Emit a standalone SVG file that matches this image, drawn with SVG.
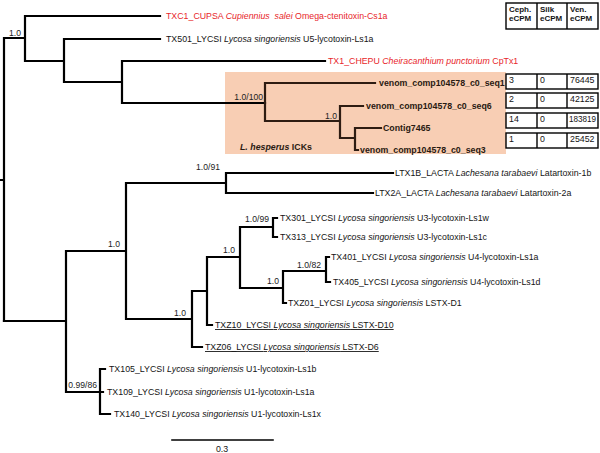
<svg xmlns="http://www.w3.org/2000/svg" width="600" height="453" viewBox="0 0 600 453">
<style>
text{font-family:"Liberation Sans",Arial,sans-serif;font-size:8.8px;fill:#141414}
.red{fill:#e8262a}
.b{font-weight:bold;fill:#2a1a12}
.lab{font-size:8.6px;text-anchor:end;fill:#222}
.i{font-style:italic}
.u{text-decoration:underline}
.tree{fill:none;stroke:#000;stroke-width:2.2;stroke-linecap:square}
.cell{fill:#fff;stroke:#000;stroke-width:1.4}
.h{font-size:8px;font-weight:bold}
.v{font-size:8.8px}
</style>
<rect width="600" height="453" fill="#fff"/>
<rect id="ick-box" x="225" y="72" width="281" height="82" fill="#f8ceb4"/>
<g id="connectors" class="tree">
<path d="M0,180H4M4,38V321M4,38H25M25,16V61M25,16H160M25,61H64M64,39V82M64,39H160M64,82H122M122,61V103M122,61H325M122,103H265"/>
<path stroke="#2e1c12" d="M265,83V121M265,83H375M265,121H340M340,106V138M340,106H363M340,138H355M355,128V150M355,128H381M355,150H358"/>
<path d="M4,321H66M66,251V392M66,251H126M126,183V319M126,183H226M226,173V193M226,173H393M226,193H373M126,319H192M192,291V347M192,291H207M207,257V325M207,257H240M240,227V288M240,227H273M273,218V237M273,218H277M273,237H277M240,288H283M283,271V303M283,271H326M326,257V282M326,257H329M326,282H330M283,303H286M207,325H212M192,347H202M66,392H100M100,369V414M100,369H105M100,392H103M100,414H110"/>
<path d="M172,440H273" stroke-width="1.6"/>
</g>
<g id="support-labels">
<text class="lab" x="21" y="36">1.0</text>
<text class="lab" x="263" y="100">1.0/100</text>
<text class="lab" x="337" y="119">1.0</text>
<text class="lab" x="220" y="170">1.0/91</text>
<text class="lab" x="120" y="247">1.0</text>
<text class="lab" x="269" y="222">1.0/99</text>
<text class="lab" x="235" y="253">1.0</text>
<text class="lab" x="321" y="268">1.0/82</text>
<text class="lab" x="279" y="284">1.0</text>
<text class="lab" x="186" y="316">1.0</text>
<text class="lab" x="97" y="388">0.99/86</text>
</g>
<g id="leaf-TXC1"><text class="red" x="166" y="19" xml:space="preserve">TXC1_CUPSA <tspan class="i">Cupiennius  salei</tspan> Omega-ctenitoxin-Cs1a</text></g>
<g id="leaf-TX501"><text x="166" y="42">TX501_LYCSI <tspan class="i">Lycosa singoriensis</tspan> U5-lycotoxin-Ls1a</text></g>
<g id="leaf-TX1"><text class="red" x="328" y="64">TX1_CHEPU <tspan class="i">Cheiracanthium punctorium</tspan> CpTx1</text></g>
<g id="leaf-seq1"><text class="b" x="379" y="86">venom_comp104578_c0_seq1</text></g>
<g id="leaf-seq6"><text class="b" x="366" y="109">venom_comp104578_c0_seq6</text></g>
<g id="leaf-contig"><text class="b" x="383" y="131">Contig7465</text></g>
<g id="leaf-seq3"><text class="b" x="360" y="153">venom_comp104578_c0_seq3</text></g>
<g id="ick-label"><text class="b" x="240" y="150"><tspan class="i">L. hesperus</tspan> ICKs</text></g>
<g id="leaf-LTX1B"><text x="395" y="176">LTX1B_LACTA <tspan class="i">Lachesana tarabaevi</tspan> Latartoxin-1b</text></g>
<g id="leaf-LTX2A"><text x="375" y="196">LTX2A_LACTA <tspan class="i">Lachesana tarabaevi</tspan> Latartoxin-2a</text></g>
<g id="leaf-TX301"><text x="280" y="221">TX301_LYCSI <tspan class="i">Lycosa singoriensis</tspan> U3-lycotoxin-Ls1w</text></g>
<g id="leaf-TX313"><text x="280" y="240">TX313_LYCSI <tspan class="i">Lycosa singoriensis</tspan> U3-lycotoxin-Ls1c</text></g>
<g id="leaf-TX401"><text x="331" y="260">TX401_LYCSI <tspan class="i">Lycosa singoriensis</tspan> U4-lycotoxin-Ls1a</text></g>
<g id="leaf-TX405"><text x="333" y="285">TX405_LYCSI <tspan class="i">Lycosa singoriensis</tspan> U4-lycotoxin-Ls1d</text></g>
<g id="leaf-TXZ01"><text x="288" y="306">TXZ01_LYCSI <tspan class="i">Lycosa singoriensis</tspan> LSTX-D1</text></g>
<g id="leaf-TXZ10"><text class="u" x="215" y="328">TXZ10_LYCSI <tspan class="i">Lycosa singoriensis</tspan> LSTX-D10</text></g>
<g id="leaf-TXZ06"><text class="u" x="205" y="350">TXZ06_LYCSI <tspan class="i">Lycosa singoriensis</tspan> LSTX-D6</text></g>
<g id="leaf-TX105"><text x="109" y="372">TX105_LYCSI <tspan class="i">Lycosa singoriensis</tspan> U1-lycotoxin-Ls1b</text></g>
<g id="leaf-TX109"><text x="107" y="395">TX109_LYCSI <tspan class="i">Lycosa singoriensis</tspan> U1-lycotoxin-Ls1a</text></g>
<g id="leaf-TX140"><text x="114" y="417">TX140_LYCSI <tspan class="i">Lycosa singoriensis</tspan> U1-lycotoxin-Ls1x</text></g>
<g id="scale"><text x="222" y="452" text-anchor="middle">0.3</text></g>
<g id="table-header">
<rect class="cell" x="506" y="3" width="92" height="26"/>
<path d="M537,3V29M567,3V29" stroke="#000" stroke-width="1.4"/>
<text class="h" x="509" y="12">Ceph.</text><text class="h" x="509" y="21">eCPM</text>
<text class="h" x="540" y="12">Silk</text><text class="h" x="540" y="21">eCPM</text>
<text class="h" x="570" y="12">Ven.</text><text class="h" x="570" y="21">eCPM</text>
</g>
<g id="table-row1">
<rect class="cell" x="506" y="74" width="92" height="15"/>
<path d="M537,74V89M567,74V89" stroke="#000" stroke-width="1.4"/>
<text class="v" x="509" y="83">3</text><text class="v" x="540" y="83">0</text><text class="v" x="570" y="83">76445</text>
</g>
<g id="table-row2">
<rect class="cell" x="506" y="93" width="92" height="15"/>
<path d="M537,93V108M567,93V108" stroke="#000" stroke-width="1.4"/>
<text class="v" x="509" y="102">2</text><text class="v" x="540" y="102">0</text><text class="v" x="570" y="102">42125</text>
</g>
<g id="table-row3">
<rect class="cell" x="506" y="113" width="92" height="15"/>
<path d="M537,113V128M567,113V128" stroke="#000" stroke-width="1.4"/>
<text class="v" x="509" y="122">14</text><text class="v" x="540" y="122">0</text><text class="v" x="569" y="122" textLength="27" lengthAdjust="spacingAndGlyphs">183819</text>
</g>
<g id="table-row4">
<rect class="cell" x="506" y="133" width="92" height="15"/>
<path d="M537,133V148M567,133V148" stroke="#000" stroke-width="1.4"/>
<text class="v" x="509" y="142">1</text><text class="v" x="540" y="142">0</text><text class="v" x="570" y="142">25452</text>
</g>
</svg>
